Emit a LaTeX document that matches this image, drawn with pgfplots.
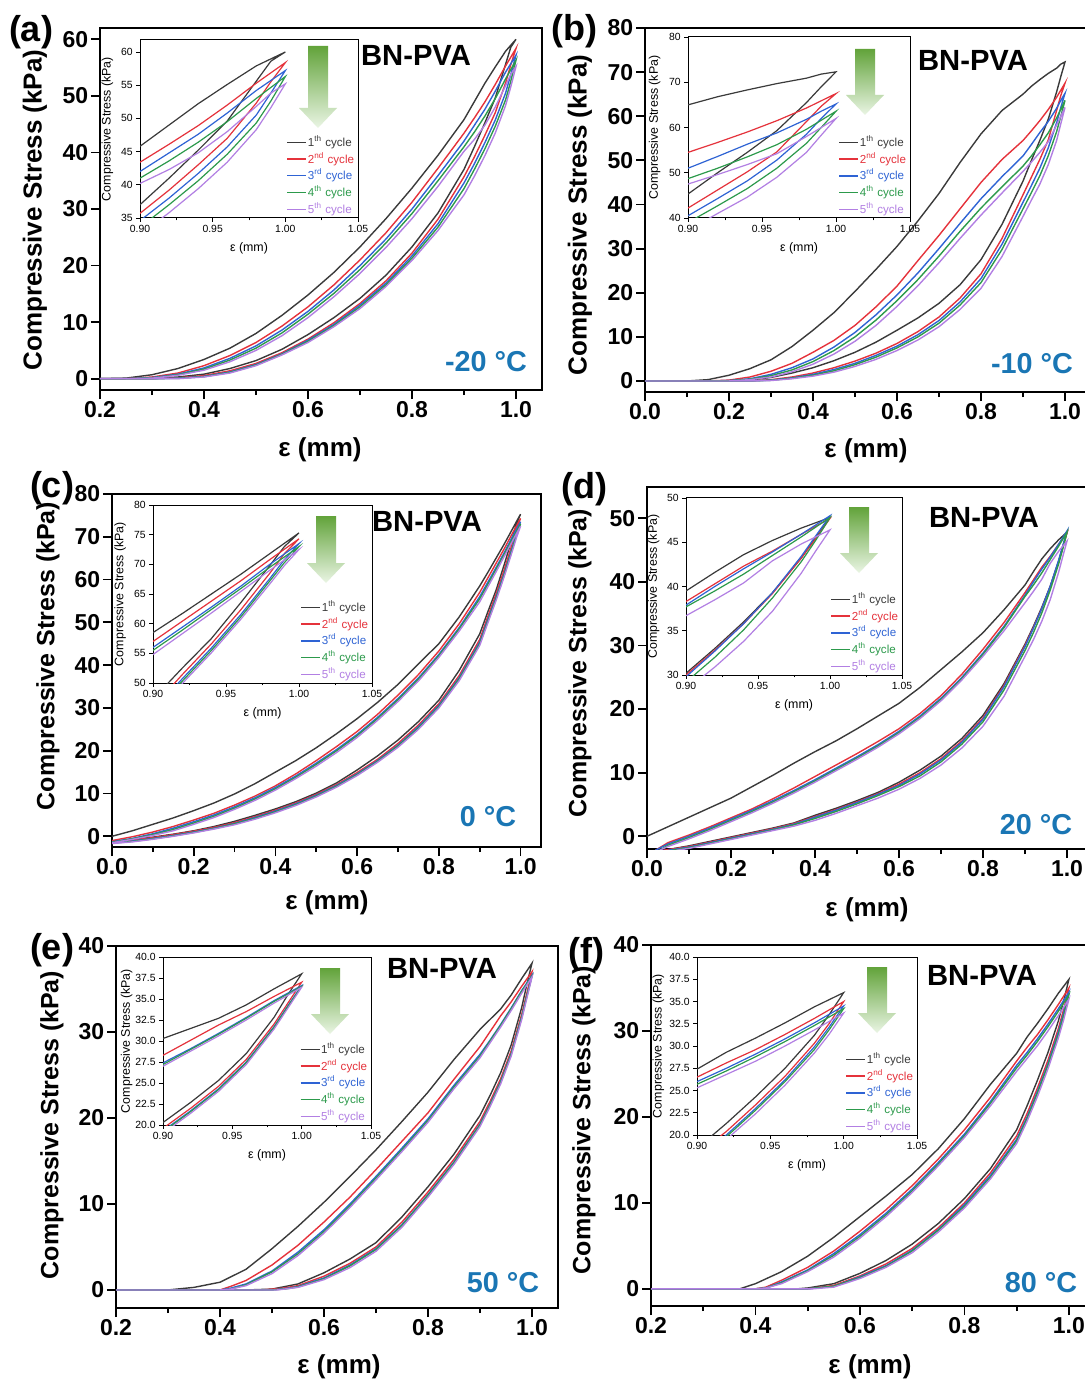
\documentclass[border=0pt]{standalone}
\usepackage{fontspec}
\setmainfont{Liberation Sans}
\usepackage{pgfplots}
\usepackage{pgfplotstable}
\pgfplotsset{compat=1.18}

\definecolor{cA}{HTML}{3A3A3A}
\definecolor{cB}{HTML}{E5323B}
\definecolor{cC}{HTML}{2E63D4}
\definecolor{cD}{HTML}{2C9A4B}
\definecolor{cE}{HTML}{B27FE3}
\definecolor{tmp}{HTML}{1A76B4}
\definecolor{arrtop}{RGB}{98,163,58}
\definecolor{arrbot}{RGB}{234,245,228}

% ---- (a) -20 C : loops, loading branch then unloading branch
\pgfplotstableread[row sep=\\]{x y\\ 0.2 0\\ 0.3 0.05\\ 0.35 0.3\\ 0.4 0.8\\ 0.45 1.8\\ 0.5 3.2\\ 0.55 5.2\\ 0.6 7.8\\ 0.65 10.8\\ 0.7 14.2\\ 0.75 18.3\\ 0.8 23.3\\ 0.85 29.3\\ 0.9 37\\ 0.92 41\\ 0.94 45.2\\ 0.96 49.6\\ 0.98 55.6\\ 0.99 58.6\\ 1.0 60\\ 0.98 57.9\\ 0.96 55.1\\ 0.94 52.2\\ 0.92 49\\ 0.9 45.8\\ 0.85 39.5\\ 0.8 33.7\\ 0.75 28.3\\ 0.7 23.3\\ 0.65 18.8\\ 0.6 14.8\\ 0.55 11.2\\ 0.5 8\\ 0.45 5.4\\ 0.4 3.4\\ 0.35 1.8\\ 0.3 0.7\\ 0.25 0.1\\ 0.2 0\\}\aI
\pgfplotstableread[row sep=\\]{x y\\ 0.2 0\\ 0.3 0\\ 0.35 0.15\\ 0.4 0.55\\ 0.45 1.4\\ 0.5 2.7\\ 0.55 4.6\\ 0.6 7\\ 0.65 9.9\\ 0.7 13.3\\ 0.75 17.3\\ 0.8 22.2\\ 0.85 28.2\\ 0.9 35.7\\ 0.92 39.2\\ 0.94 43\\ 0.96 47\\ 0.98 52.3\\ 0.99 55.5\\ 1.0 58.4\\ 0.98 55.3\\ 0.96 52\\ 0.94 48.9\\ 0.92 46.1\\ 0.9 43.4\\ 0.85 37.2\\ 0.8 31.2\\ 0.75 25.8\\ 0.7 21\\ 0.65 16.6\\ 0.6 12.7\\ 0.55 9.3\\ 0.5 6.4\\ 0.45 4.1\\ 0.4 2.3\\ 0.35 1\\ 0.3 0.3\\ 0.25 0\\ 0.2 0\\}\aII
\pgfplotstableread[row sep=\\]{x y\\ 0.2 0\\ 0.3 0\\ 0.35 0.1\\ 0.4 0.4\\ 0.45 1.2\\ 0.5 2.5\\ 0.55 4.4\\ 0.6 6.8\\ 0.65 9.6\\ 0.7 13\\ 0.75 16.9\\ 0.8 21.7\\ 0.85 27.4\\ 0.9 34.6\\ 0.92 38\\ 0.94 41.7\\ 0.96 45.7\\ 0.98 50.5\\ 0.99 53.8\\ 1.0 57.2\\ 0.98 54.2\\ 0.96 50.8\\ 0.94 47.6\\ 0.92 44.8\\ 0.9 42\\ 0.85 35.9\\ 0.8 30\\ 0.75 24.7\\ 0.7 20\\ 0.65 15.7\\ 0.6 11.9\\ 0.55 8.6\\ 0.5 5.8\\ 0.45 3.6\\ 0.4 1.9\\ 0.35 0.8\\ 0.3 0.2\\ 0.25 0\\ 0.2 0\\}\aIII
\pgfplotstableread[row sep=\\]{x y\\ 0.2 0\\ 0.3 0\\ 0.35 0.05\\ 0.4 0.35\\ 0.45 1.1\\ 0.5 2.4\\ 0.55 4.3\\ 0.6 6.6\\ 0.65 9.4\\ 0.7 12.7\\ 0.75 16.6\\ 0.8 21.3\\ 0.85 26.8\\ 0.9 33.6\\ 0.92 37\\ 0.94 40.6\\ 0.96 44.6\\ 0.98 49.3\\ 0.99 52.6\\ 1.0 56.3\\ 0.98 53\\ 0.96 49.5\\ 0.94 46.4\\ 0.92 43.6\\ 0.9 41\\ 0.85 35\\ 0.8 29.2\\ 0.75 24\\ 0.7 19.3\\ 0.65 15.1\\ 0.6 11.4\\ 0.55 8.1\\ 0.5 5.4\\ 0.45 3.3\\ 0.4 1.7\\ 0.35 0.7\\ 0.3 0.15\\ 0.25 0\\ 0.2 0\\}\aIV
\pgfplotstableread[row sep=\\]{x y\\ 0.2 0\\ 0.35 0\\ 0.4 0.3\\ 0.45 1\\ 0.5 2.3\\ 0.55 4.2\\ 0.6 6.4\\ 0.65 9.2\\ 0.7 12.4\\ 0.75 16.3\\ 0.8 20.9\\ 0.85 26.2\\ 0.9 32.5\\ 0.92 35.8\\ 0.94 39.4\\ 0.96 43.4\\ 0.98 48.3\\ 0.99 51.6\\ 1.0 55.2\\ 0.99 53.8\\ 0.98 51.8\\ 0.96 48\\ 0.94 44.8\\ 0.92 42.3\\ 0.9 40.2\\ 0.85 34\\ 0.8 28.3\\ 0.75 23.2\\ 0.7 18.6\\ 0.65 14.5\\ 0.6 10.8\\ 0.55 7.6\\ 0.5 5\\ 0.45 3\\ 0.4 1.5\\ 0.35 0.6\\ 0.3 0.1\\ 0.25 0\\ 0.2 0\\}\aV

% ---- (b) -10 C
\pgfplotstableread[row sep=\\]{x y\\ 0 0\\ 0.2 0\\ 0.25 0.2\\ 0.3 0.8\\ 0.35 1.8\\ 0.4 3\\ 0.45 4.6\\ 0.5 6.5\\ 0.55 8.8\\ 0.6 11.5\\ 0.65 14.3\\ 0.7 17.6\\ 0.75 21.8\\ 0.8 27.5\\ 0.85 35.5\\ 0.9 45.3\\ 0.92 50\\ 0.94 54.5\\ 0.96 59.3\\ 0.98 65.5\\ 0.99 69\\ 1.0 72.3\\ 0.99 71.8\\ 0.98 70.9\\ 0.96 69.7\\ 0.94 68.3\\ 0.92 66.8\\ 0.9 65\\ 0.85 61.3\\ 0.8 56\\ 0.75 49.5\\ 0.7 42.5\\ 0.65 36.3\\ 0.6 30.5\\ 0.55 25.3\\ 0.5 20.3\\ 0.45 15.5\\ 0.4 11.5\\ 0.35 7.8\\ 0.3 4.8\\ 0.25 2.8\\ 0.2 1.3\\ 0.15 0.3\\ 0.1 0\\ 0 0\\}\bI
\pgfplotstableread[row sep=\\]{x y\\ 0 0\\ 0.25 0\\ 0.3 0.3\\ 0.35 0.9\\ 0.4 1.8\\ 0.45 3\\ 0.5 4.5\\ 0.55 6.3\\ 0.6 8.5\\ 0.65 11.2\\ 0.7 14.5\\ 0.75 18.8\\ 0.8 24.3\\ 0.85 32.3\\ 0.9 42.2\\ 0.92 46.2\\ 0.94 50.2\\ 0.96 54.6\\ 0.98 61.3\\ 0.99 64.7\\ 1.0 67.5\\ 0.98 64.3\\ 0.96 61.5\\ 0.94 59\\ 0.92 56.7\\ 0.9 54.5\\ 0.85 50.2\\ 0.8 45\\ 0.75 39\\ 0.7 33\\ 0.65 27.3\\ 0.6 21.5\\ 0.55 16.8\\ 0.5 12.6\\ 0.45 9.2\\ 0.4 6.5\\ 0.35 4\\ 0.3 2.2\\ 0.25 0.9\\ 0.2 0.2\\ 0.15 0\\ 0 0\\}\bII
\pgfplotstableread[row sep=\\]{x y\\ 0 0\\ 0.25 0\\ 0.3 0.2\\ 0.35 0.7\\ 0.4 1.5\\ 0.45 2.6\\ 0.5 4\\ 0.55 5.8\\ 0.6 7.9\\ 0.65 10.5\\ 0.7 13.7\\ 0.75 17.9\\ 0.8 23.2\\ 0.85 31\\ 0.9 40.5\\ 0.92 44.3\\ 0.94 48.2\\ 0.96 52.8\\ 0.98 58.5\\ 0.99 62\\ 1.0 65.2\\ 0.99 63.6\\ 0.98 61.8\\ 0.96 58.8\\ 0.94 56.3\\ 0.92 53.6\\ 0.9 51\\ 0.85 46.3\\ 0.8 41.3\\ 0.75 35.7\\ 0.7 30\\ 0.65 24.5\\ 0.6 19.5\\ 0.55 15\\ 0.5 11\\ 0.45 7.7\\ 0.4 5\\ 0.35 3\\ 0.3 1.5\\ 0.25 0.5\\ 0.2 0.1\\ 0.15 0\\ 0 0\\}\bIII
\pgfplotstableread[row sep=\\]{x y\\ 0 0\\ 0.25 0\\ 0.3 0.15\\ 0.35 0.6\\ 0.4 1.3\\ 0.45 2.3\\ 0.5 3.7\\ 0.55 5.4\\ 0.6 7.5\\ 0.65 10\\ 0.7 13.1\\ 0.75 17.2\\ 0.8 22.3\\ 0.85 29.8\\ 0.9 39\\ 0.92 42.7\\ 0.94 46.5\\ 0.96 51\\ 0.98 56.5\\ 0.99 60\\ 1.0 63.6\\ 0.98 59.6\\ 0.96 56.2\\ 0.94 53.5\\ 0.92 51\\ 0.9 48.7\\ 0.85 44\\ 0.8 39.2\\ 0.75 33.9\\ 0.7 28.3\\ 0.65 23\\ 0.6 18.2\\ 0.55 13.8\\ 0.5 10\\ 0.45 6.9\\ 0.4 4.4\\ 0.35 2.5\\ 0.3 1.2\\ 0.25 0.4\\ 0.2 0.05\\ 0.15 0\\ 0 0\\}\bIV
\pgfplotstableread[row sep=\\]{x y\\ 0 0\\ 0.25 0\\ 0.3 0.1\\ 0.35 0.5\\ 0.4 1.1\\ 0.45 2\\ 0.5 3.3\\ 0.55 4.9\\ 0.6 6.9\\ 0.65 9.3\\ 0.7 12.3\\ 0.75 16.2\\ 0.8 21\\ 0.85 28.2\\ 0.9 37.3\\ 0.92 41\\ 0.94 44.6\\ 0.96 49\\ 0.98 54.5\\ 0.99 58.3\\ 1.0 62\\ 0.98 58\\ 0.96 54.2\\ 0.94 51.8\\ 0.92 49.6\\ 0.9 47.5\\ 0.85 42.6\\ 0.8 37.6\\ 0.75 32.3\\ 0.7 26.8\\ 0.65 21.6\\ 0.6 16.9\\ 0.55 12.6\\ 0.5 9\\ 0.45 6.1\\ 0.4 3.8\\ 0.35 2.1\\ 0.3 0.9\\ 0.25 0.3\\ 0.2 0\\ 0 0\\}\bV

% ---- (c) 0 C
\pgfplotstableread[row sep=\\]{x y\\ 0 -1.2\\ 0.05 -0.7\\ 0.1 -0.2\\ 0.15 0.5\\ 0.2 1.3\\ 0.25 2.3\\ 0.3 3.5\\ 0.35 4.9\\ 0.4 6.4\\ 0.45 8.1\\ 0.5 10.1\\ 0.55 12.5\\ 0.6 15.5\\ 0.65 18.8\\ 0.7 22.5\\ 0.75 26.8\\ 0.8 31.8\\ 0.85 38.8\\ 0.9 47.3\\ 0.92 52.5\\ 0.94 57.5\\ 0.96 63.5\\ 0.98 69.8\\ 0.99 73\\ 1.0 75.3\\ 0.98 71.8\\ 0.96 68.3\\ 0.94 65\\ 0.92 61.7\\ 0.9 58.5\\ 0.85 51.3\\ 0.8 45\\ 0.75 40.3\\ 0.7 35.5\\ 0.65 31.3\\ 0.6 27.5\\ 0.55 24\\ 0.5 20.7\\ 0.45 17.7\\ 0.4 15\\ 0.35 12.3\\ 0.3 9.9\\ 0.25 7.8\\ 0.2 6\\ 0.15 4.3\\ 0.1 2.8\\ 0.05 1.3\\ 0 0\\}\cI
\pgfplotstableread[row sep=\\]{x y\\ 0 -1.3\\ 0.05 -0.9\\ 0.1 -0.3\\ 0.15 0.4\\ 0.2 1.2\\ 0.25 2.1\\ 0.3 3.2\\ 0.35 4.6\\ 0.4 6.1\\ 0.45 7.8\\ 0.5 9.8\\ 0.55 12.1\\ 0.6 14.9\\ 0.65 18\\ 0.7 21.7\\ 0.75 26\\ 0.8 31\\ 0.85 37.6\\ 0.9 46\\ 0.92 51.4\\ 0.94 56.6\\ 0.96 62.3\\ 0.98 68.5\\ 0.99 71.8\\ 1.0 74.3\\ 0.98 70.8\\ 0.96 67.2\\ 0.94 63.8\\ 0.92 60.4\\ 0.9 57\\ 0.85 49.7\\ 0.8 43.3\\ 0.75 37.8\\ 0.7 33\\ 0.65 28.5\\ 0.6 24.5\\ 0.55 21\\ 0.5 17.7\\ 0.45 14.6\\ 0.4 11.8\\ 0.35 9.4\\ 0.3 7.3\\ 0.25 5.4\\ 0.2 3.8\\ 0.15 2.3\\ 0.1 1\\ 0.05 -0.1\\ 0 -1\\}\cII
\pgfplotstableread[row sep=\\]{x y\\ 0 -1.5\\ 0.05 -1.1\\ 0.1 -0.5\\ 0.15 0.2\\ 0.2 1\\ 0.25 1.9\\ 0.3 3\\ 0.35 4.4\\ 0.4 5.9\\ 0.45 7.6\\ 0.5 9.6\\ 0.55 11.9\\ 0.6 14.6\\ 0.65 17.7\\ 0.7 21.3\\ 0.75 25.6\\ 0.8 30.6\\ 0.85 37.1\\ 0.9 45.4\\ 0.92 50.7\\ 0.94 55.9\\ 0.96 61.5\\ 0.98 67.6\\ 0.99 70.8\\ 1.0 73.5\\ 0.98 70\\ 0.96 66.3\\ 0.94 62.8\\ 0.92 59.4\\ 0.9 56\\ 0.85 48.8\\ 0.8 42.5\\ 0.75 37\\ 0.7 32.2\\ 0.65 27.8\\ 0.6 23.8\\ 0.55 20.3\\ 0.5 17.1\\ 0.45 14.1\\ 0.4 11.4\\ 0.35 9\\ 0.3 6.9\\ 0.25 5\\ 0.2 3.4\\ 0.15 1.9\\ 0.1 0.6\\ 0.05 -0.5\\ 0 -1.3\\}\cIII
\pgfplotstableread[row sep=\\]{x y\\ 0 -1.6\\ 0.05 -1.2\\ 0.1 -0.6\\ 0.15 0.1\\ 0.2 0.9\\ 0.25 1.8\\ 0.3 2.9\\ 0.35 4.2\\ 0.4 5.7\\ 0.45 7.4\\ 0.5 9.4\\ 0.55 11.7\\ 0.6 14.4\\ 0.65 17.5\\ 0.7 21.1\\ 0.75 25.3\\ 0.8 30.3\\ 0.85 36.8\\ 0.9 45\\ 0.92 50.3\\ 0.94 55.5\\ 0.96 61.1\\ 0.98 67.2\\ 0.99 70.3\\ 1.0 73\\ 0.98 69.5\\ 0.96 65.9\\ 0.94 62.4\\ 0.92 58.9\\ 0.9 55.5\\ 0.85 48.5\\ 0.8 42.2\\ 0.75 36.7\\ 0.7 31.9\\ 0.65 27.5\\ 0.6 23.5\\ 0.55 20\\ 0.5 16.8\\ 0.45 13.8\\ 0.4 11.1\\ 0.35 8.7\\ 0.3 6.6\\ 0.25 4.7\\ 0.2 3.1\\ 0.15 1.6\\ 0.1 0.4\\ 0.05 -0.6\\ 0 -1.4\\}\cIV
\pgfplotstableread[row sep=\\]{x y\\ 0 -1.7\\ 0.05 -1.3\\ 0.1 -0.7\\ 0.15 0\\ 0.2 0.8\\ 0.25 1.7\\ 0.3 2.7\\ 0.35 4\\ 0.4 5.5\\ 0.45 7.2\\ 0.5 9.2\\ 0.55 11.5\\ 0.6 14.2\\ 0.65 17.3\\ 0.7 20.8\\ 0.75 25\\ 0.8 30\\ 0.85 36.4\\ 0.9 44.6\\ 0.92 49.9\\ 0.94 55.1\\ 0.96 60.7\\ 0.98 66.7\\ 0.99 69.8\\ 1.0 72.5\\ 0.98 69\\ 0.96 65.4\\ 0.94 61.8\\ 0.92 58.3\\ 0.9 54.8\\ 0.85 48\\ 0.8 41.8\\ 0.75 36.3\\ 0.7 31.5\\ 0.65 27.1\\ 0.6 23.1\\ 0.55 19.6\\ 0.5 16.4\\ 0.45 13.5\\ 0.4 10.8\\ 0.35 8.4\\ 0.3 6.3\\ 0.25 4.4\\ 0.2 2.8\\ 0.15 1.3\\ 0.1 0.2\\ 0.05 -0.7\\ 0 -1.5\\}\cV

% ---- (d) 20 C
\pgfplotstableread[row sep=\\]{x y\\ 0.04 -2.2\\ 0.1 -1.5\\ 0.15 -0.8\\ 0.2 -0.1\\ 0.25 0.6\\ 0.3 1.3\\ 0.35 2.1\\ 0.4 3.3\\ 0.45 4.4\\ 0.5 5.6\\ 0.55 6.9\\ 0.6 8.5\\ 0.65 10.4\\ 0.7 12.6\\ 0.75 15.4\\ 0.8 19\\ 0.85 24\\ 0.9 30.2\\ 0.92 33\\ 0.94 36\\ 0.96 39.3\\ 0.98 43.2\\ 0.99 45.5\\ 1.0 47.8\\ 0.98 46.6\\ 0.96 45.2\\ 0.94 43.6\\ 0.92 41.6\\ 0.9 39.5\\ 0.85 35.6\\ 0.8 32\\ 0.75 29\\ 0.7 26.2\\ 0.65 23.4\\ 0.6 20.9\\ 0.55 18.9\\ 0.5 16.9\\ 0.45 15\\ 0.4 13.3\\ 0.35 11.5\\ 0.3 9.6\\ 0.25 7.8\\ 0.2 6\\ 0.15 4.5\\ 0.1 3\\ 0.05 1.5\\ 0 0\\}\dI
\pgfplotstableread[row sep=\\]{x y\\ 0.04 -2.2\\ 0.1 -1.6\\ 0.15 -0.9\\ 0.2 -0.2\\ 0.25 0.5\\ 0.3 1.2\\ 0.35 2\\ 0.4 3.1\\ 0.45 4.2\\ 0.5 5.4\\ 0.55 6.7\\ 0.6 8.2\\ 0.65 10\\ 0.7 12.2\\ 0.75 15\\ 0.8 18.6\\ 0.85 23.7\\ 0.9 30\\ 0.92 32.8\\ 0.94 35.8\\ 0.96 39.2\\ 0.98 43.2\\ 0.99 45.4\\ 1.0 47.7\\ 0.98 45.9\\ 0.96 44\\ 0.94 42.3\\ 0.92 40.3\\ 0.9 38.3\\ 0.85 33.6\\ 0.8 29.4\\ 0.75 25.5\\ 0.7 22.1\\ 0.65 19.3\\ 0.6 16.9\\ 0.55 14.9\\ 0.5 13\\ 0.45 11.2\\ 0.4 9.4\\ 0.35 7.6\\ 0.3 5.9\\ 0.25 4.3\\ 0.2 2.9\\ 0.15 1.5\\ 0.1 0.2\\ 0.05 -1\\ 0.02 -2.2\\}\dII
\pgfplotstableread[row sep=\\]{x y\\ 0.05 -2.2\\ 0.1 -1.7\\ 0.15 -1\\ 0.2 -0.3\\ 0.25 0.4\\ 0.3 1.1\\ 0.35 1.9\\ 0.4 3\\ 0.45 4.1\\ 0.5 5.3\\ 0.55 6.6\\ 0.6 8\\ 0.65 9.8\\ 0.7 12\\ 0.75 14.8\\ 0.8 18.4\\ 0.85 23.5\\ 0.9 29.8\\ 0.92 32.7\\ 0.94 35.8\\ 0.96 39.3\\ 0.98 43.4\\ 0.99 45.7\\ 1.0 48\\ 0.98 45.9\\ 0.96 43.9\\ 0.94 42\\ 0.92 40\\ 0.9 37.9\\ 0.85 33\\ 0.8 28.8\\ 0.75 25\\ 0.7 21.7\\ 0.65 18.9\\ 0.6 16.5\\ 0.55 14.4\\ 0.5 12.5\\ 0.45 10.7\\ 0.4 8.9\\ 0.35 7.2\\ 0.3 5.6\\ 0.25 4.1\\ 0.2 2.7\\ 0.15 1.3\\ 0.1 0\\ 0.05 -1.2\\ 0.02 -2.2\\}\dIII
\pgfplotstableread[row sep=\\]{x y\\ 0.06 -2.2\\ 0.1 -1.8\\ 0.15 -1.1\\ 0.2 -0.4\\ 0.25 0.3\\ 0.3 1\\ 0.35 1.8\\ 0.4 2.8\\ 0.45 3.9\\ 0.5 5.1\\ 0.55 6.4\\ 0.6 7.8\\ 0.65 9.5\\ 0.7 11.7\\ 0.75 14.5\\ 0.8 18\\ 0.85 23\\ 0.9 29.2\\ 0.92 32\\ 0.94 35.1\\ 0.96 38.7\\ 0.98 42.8\\ 0.99 45.2\\ 1.0 47.8\\ 0.98 45.6\\ 0.96 43.5\\ 0.94 41.4\\ 0.92 39.5\\ 0.9 37.7\\ 0.85 32.8\\ 0.8 28.6\\ 0.75 24.8\\ 0.7 21.5\\ 0.65 18.7\\ 0.6 16.3\\ 0.55 14.2\\ 0.5 12.3\\ 0.45 10.5\\ 0.4 8.7\\ 0.35 7\\ 0.3 5.4\\ 0.25 3.9\\ 0.2 2.5\\ 0.15 1.1\\ 0.1 -0.2\\ 0.05 -1.4\\ 0.03 -2.2\\}\dIV
\pgfplotstableread[row sep=\\]{x y\\ 0.07 -2.2\\ 0.1 -1.9\\ 0.15 -1.2\\ 0.2 -0.5\\ 0.25 0.2\\ 0.3 0.9\\ 0.35 1.6\\ 0.4 2.5\\ 0.45 3.6\\ 0.5 4.8\\ 0.55 6\\ 0.6 7.4\\ 0.65 9.1\\ 0.7 11.2\\ 0.75 13.9\\ 0.8 17.3\\ 0.85 22\\ 0.9 28.3\\ 0.92 30.9\\ 0.94 33.8\\ 0.96 37.2\\ 0.98 41.5\\ 0.99 44\\ 1.0 46.4\\ 0.98 44.8\\ 0.96 42.9\\ 0.94 40.4\\ 0.92 38.5\\ 0.9 36.7\\ 0.85 32.3\\ 0.8 28.3\\ 0.75 24.6\\ 0.7 21.3\\ 0.65 18.5\\ 0.6 16.1\\ 0.55 14\\ 0.5 12.1\\ 0.45 10.3\\ 0.4 8.5\\ 0.35 6.8\\ 0.3 5.2\\ 0.25 3.7\\ 0.2 2.3\\ 0.15 0.9\\ 0.1 -0.4\\ 0.05 -1.6\\ 0.03 -2.2\\}\dV

% ---- (e) 50 C
\pgfplotstableread[row sep=\\]{x y\\ 0.2 0\\ 0.45 0\\ 0.5 0.1\\ 0.55 0.7\\ 0.6 2\\ 0.65 3.6\\ 0.7 5.5\\ 0.75 8.5\\ 0.8 12\\ 0.85 15.8\\ 0.9 20.3\\ 0.92 22.7\\ 0.94 25.3\\ 0.96 28.5\\ 0.98 32.8\\ 0.99 35.5\\ 1.0 38\\ 0.99 37.1\\ 0.98 36.2\\ 0.96 34.3\\ 0.94 32.7\\ 0.92 31.5\\ 0.9 30.3\\ 0.85 26.8\\ 0.8 23\\ 0.75 19.6\\ 0.7 16.3\\ 0.65 13.2\\ 0.6 10.2\\ 0.55 7.4\\ 0.5 4.8\\ 0.45 2.4\\ 0.4 0.9\\ 0.35 0.3\\ 0.3 0\\ 0.2 0\\}\eI
\pgfplotstableread[row sep=\\]{x y\\ 0.2 0\\ 0.48 0\\ 0.52 0.2\\ 0.55 0.5\\ 0.6 1.6\\ 0.65 3.1\\ 0.7 5\\ 0.75 7.9\\ 0.8 11.4\\ 0.85 15.2\\ 0.9 19.6\\ 0.92 22\\ 0.94 24.6\\ 0.96 27.8\\ 0.98 32\\ 0.99 34.5\\ 1.0 37\\ 0.98 35.3\\ 0.96 33.5\\ 0.94 31.9\\ 0.92 30.1\\ 0.9 28.3\\ 0.85 24.5\\ 0.8 20.6\\ 0.75 17.3\\ 0.7 14\\ 0.65 10.8\\ 0.6 7.9\\ 0.55 5.2\\ 0.5 2.9\\ 0.45 1.1\\ 0.42 0.4\\ 0.4 0\\ 0.2 0\\}\eII
\pgfplotstableread[row sep=\\]{x y\\ 0.2 0\\ 0.5 0\\ 0.53 0.2\\ 0.55 0.4\\ 0.6 1.4\\ 0.65 2.9\\ 0.7 4.8\\ 0.75 7.6\\ 0.8 11.1\\ 0.85 14.9\\ 0.9 19.3\\ 0.92 21.7\\ 0.94 24.3\\ 0.96 27.5\\ 0.98 31.7\\ 0.99 34.2\\ 1.0 36.6\\ 0.98 34.8\\ 0.96 32.8\\ 0.94 30.9\\ 0.92 29.1\\ 0.9 27.4\\ 0.85 23.8\\ 0.8 19.9\\ 0.75 16.5\\ 0.7 13.2\\ 0.65 10\\ 0.6 7\\ 0.55 4.4\\ 0.5 2.2\\ 0.45 0.7\\ 0.42 0.2\\ 0.4 0\\ 0.2 0\\}\eIII
\pgfplotstableread[row sep=\\]{x y\\ 0.2 0\\ 0.5 0\\ 0.53 0.15\\ 0.55 0.35\\ 0.6 1.3\\ 0.65 2.8\\ 0.7 4.7\\ 0.75 7.5\\ 0.8 11\\ 0.85 14.8\\ 0.9 19.2\\ 0.92 21.6\\ 0.94 24.2\\ 0.96 27.4\\ 0.98 31.6\\ 0.99 34.1\\ 1.0 36.5\\ 0.98 34.7\\ 0.96 32.7\\ 0.94 30.8\\ 0.92 29\\ 0.9 27.2\\ 0.85 23.6\\ 0.8 19.7\\ 0.75 16.3\\ 0.7 13\\ 0.65 9.8\\ 0.6 6.8\\ 0.55 4.2\\ 0.5 2.1\\ 0.45 0.6\\ 0.42 0.1\\ 0.4 0\\ 0.2 0\\}\eIV
\pgfplotstableread[row sep=\\]{x y\\ 0.2 0\\ 0.51 0\\ 0.55 0.3\\ 0.6 1.2\\ 0.65 2.6\\ 0.7 4.5\\ 0.75 7.3\\ 0.8 10.8\\ 0.85 14.6\\ 0.9 19\\ 0.92 21.4\\ 0.94 24\\ 0.96 27.2\\ 0.98 31.4\\ 0.99 33.9\\ 1.0 36.4\\ 0.98 34.5\\ 0.96 32.5\\ 0.94 30.6\\ 0.92 28.8\\ 0.9 27\\ 0.85 23.4\\ 0.8 19.5\\ 0.75 16.1\\ 0.7 12.8\\ 0.65 9.6\\ 0.6 6.6\\ 0.55 4\\ 0.5 1.9\\ 0.45 0.5\\ 0.42 0.1\\ 0.4 0\\ 0.2 0\\}\eV

% ---- (f) 80 C
\pgfplotstableread[row sep=\\]{x y\\ 0.2 0\\ 0.48 0\\ 0.5 0.1\\ 0.55 0.6\\ 0.6 1.8\\ 0.65 3.3\\ 0.7 5.2\\ 0.75 7.6\\ 0.8 10.5\\ 0.85 14\\ 0.9 18.5\\ 0.92 21.3\\ 0.94 24.3\\ 0.96 27.5\\ 0.98 31.2\\ 0.99 33.5\\ 1.0 36\\ 0.98 34.4\\ 0.96 32.6\\ 0.94 30.9\\ 0.92 29.3\\ 0.9 27.4\\ 0.85 23.8\\ 0.8 19.8\\ 0.75 16.3\\ 0.7 13.3\\ 0.65 10.8\\ 0.6 8.4\\ 0.55 6\\ 0.5 3.8\\ 0.45 2\\ 0.4 0.6\\ 0.37 0\\ 0.2 0\\}\fI
\pgfplotstableread[row sep=\\]{x y\\ 0.2 0\\ 0.5 0\\ 0.55 0.4\\ 0.6 1.5\\ 0.65 2.9\\ 0.7 4.7\\ 0.75 7.1\\ 0.8 10\\ 0.85 13.5\\ 0.9 17.8\\ 0.92 20.4\\ 0.94 23.4\\ 0.96 26.6\\ 0.98 30.3\\ 0.99 32.5\\ 1.0 35\\ 0.98 33.1\\ 0.96 31.3\\ 0.94 29.6\\ 0.92 28.1\\ 0.9 26.5\\ 0.85 22.3\\ 0.8 18.5\\ 0.75 15.1\\ 0.7 12\\ 0.65 9.2\\ 0.6 6.7\\ 0.55 4.4\\ 0.5 2.5\\ 0.45 1\\ 0.42 0.2\\ 0.4 0\\ 0.2 0\\}\fII
\pgfplotstableread[row sep=\\]{x y\\ 0.2 0\\ 0.5 0\\ 0.55 0.3\\ 0.6 1.4\\ 0.65 2.7\\ 0.7 4.5\\ 0.75 6.9\\ 0.8 9.8\\ 0.85 13.2\\ 0.9 17.4\\ 0.92 20\\ 0.94 23\\ 0.96 26.2\\ 0.98 29.9\\ 0.99 32.1\\ 1.0 34.5\\ 0.98 32.6\\ 0.96 30.8\\ 0.94 29.1\\ 0.92 27.5\\ 0.9 26\\ 0.85 21.8\\ 0.8 18\\ 0.75 14.7\\ 0.7 11.6\\ 0.65 8.8\\ 0.6 6.3\\ 0.55 4.1\\ 0.5 2.2\\ 0.45 0.8\\ 0.42 0.1\\ 0.4 0\\ 0.2 0\\}\fIII
\pgfplotstableread[row sep=\\]{x y\\ 0.2 0\\ 0.5 0\\ 0.55 0.3\\ 0.6 1.3\\ 0.65 2.6\\ 0.7 4.4\\ 0.75 6.8\\ 0.8 9.6\\ 0.85 13\\ 0.9 17.2\\ 0.92 19.8\\ 0.94 22.8\\ 0.96 26\\ 0.98 29.6\\ 0.99 31.8\\ 1.0 34.2\\ 0.98 32.3\\ 0.96 30.5\\ 0.94 28.8\\ 0.92 27.2\\ 0.9 25.7\\ 0.85 21.6\\ 0.8 17.8\\ 0.75 14.5\\ 0.7 11.4\\ 0.65 8.6\\ 0.6 6.1\\ 0.55 3.9\\ 0.5 2.1\\ 0.45 0.7\\ 0.42 0.1\\ 0.4 0\\ 0.2 0\\}\fIV
\pgfplotstableread[row sep=\\]{x y\\ 0.2 0\\ 0.51 0\\ 0.55 0.2\\ 0.6 1.2\\ 0.65 2.5\\ 0.7 4.2\\ 0.75 6.6\\ 0.8 9.4\\ 0.85 12.8\\ 0.9 16.9\\ 0.92 19.5\\ 0.94 22.4\\ 0.96 25.6\\ 0.98 29.2\\ 0.99 31.3\\ 1.0 33.7\\ 0.98 31.8\\ 0.96 30\\ 0.94 28.3\\ 0.92 26.8\\ 0.9 25.3\\ 0.85 21.3\\ 0.8 17.6\\ 0.75 14.3\\ 0.7 11.2\\ 0.65 8.4\\ 0.6 5.9\\ 0.55 3.7\\ 0.5 2\\ 0.45 0.6\\ 0.42 0.1\\ 0.4 0\\ 0.2 0\\}\fV

\pgfplotsset{
  mainax/.style={
    scale only axis, axis line style={line width=1.1pt},
    tick pos=left, tick align=outside,
    major tick length=4.5pt, minor tick length=2.5pt,
    every tick/.append style={line width=0.9pt, black},
    minor x tick num=1,
    tick label style={font=\bfseries\fontsize{11.5}{13}\selectfont, inner sep=1.2pt},
    /pgf/number format/assume math mode=true,
    xticklabel style={/pgf/number format/.cd, fixed, fixed zerofill, precision=1},
    every axis plot/.append style={line width=0.7pt},
  },
  inylab/.style={every axis y label/.style={at={(axis description cs:#1,0.5)},
    rotate=90, anchor=center, font=\fontsize{6.2}{7}\selectfont}},
  inax/.style={
    scale only axis, axis background/.style={fill=white},
    axis line style={line width=0.5pt},
    tick pos=left, tick align=outside,
    major tick length=2pt, minor tick length=1.2pt,
    every tick/.append style={line width=0.4pt, black},
    xmin=0.9, xmax=1.05, xtick={0.9,0.95,1.0,1.05}, minor x tick num=1,
    tick label style={font=\fontsize{5.2}{6}\selectfont, inner sep=1.5pt},
    /pgf/number format/assume math mode=true,
    xticklabel style={/pgf/number format/.cd, fixed, fixed zerofill, precision=2},
    xlabel style={font=\fontsize{6.2}{7}\selectfont},
    xlabel={ε (mm)}, ylabel={Compressive Stress (kPa)},
    inylab=-0.15,
    every axis plot/.append style={line width=0.6pt},
    legend style={draw=none, fill=none, at={(0.99,0.0)}, anchor=south east,
      font=\fontsize{5.8}{7}\selectfont, row sep=0.6pt, inner sep=0.3pt,
      nodes={inner sep=0.4pt}},
    legend cell align=left,
    legend image code/.code={\draw[#1, line width=0.7pt] (0pt,0pt) -- (9.5pt,0pt);},
  },
}

\newcommand{\loops}[5]{%
  \addplot[cA] table {#1};
  \addplot[cB] table {#2};
  \addplot[cC] table {#3};
  \addplot[cD] table {#4};
  \addplot[cE] table {#5};}
\newcommand{\cyclegend}{\legend{\textcolor{cA}{1\textsuperscript{th} cycle},
  \textcolor{cB}{2\textsuperscript{nd} cycle},
  \textcolor{cC}{3\textsuperscript{rd} cycle},
  \textcolor{cD}{4\textsuperscript{th} cycle},
  \textcolor{cE}{5\textsuperscript{th} cycle}}}
% green fading arrow, pixel units: centre x, top y, tip y
\newcommand{\garrow}[3]{\shade[top color=arrtop, bottom color=arrbot]
  ({#1-10},#2) -- ({#1+10},#2) -- ({#1+10},{#3-20}) -- ({#1+19},{#3-20}) --
  (#1,#3) -- ({#1-19},{#3-20}) -- ({#1-10},{#3-20}) -- cycle;}

\begin{document}
\begin{tikzpicture}
\useasboundingbox (0,0) rectangle (542pt,-690pt);

% (a)
\begin{axis}[mainax, at={(50pt,-195pt)}, anchor=south west, width=221pt, height=181pt,
  xmin=0.2, xmax=1.05, ymin=-2, ymax=62, xtick={0.2,0.4,0.6,0.8,1.0}, ytick={0,10,...,60}]
\loops{\aI}{\aII}{\aIII}{\aIV}{\aV}
\end{axis}
\begin{axis}[inax, at={(70pt,-109pt)}, anchor=south west, width=109pt, height=89pt,
  ymin=35, ymax=61.8, ytick={35,40,...,60}]
\loops{\aI}{\aII}{\aIII}{\aIV}{\aV}
\cyclegend
\end{axis}

% (b)
\begin{axis}[mainax, at={(322.5pt,-196pt)}, anchor=south west, width=220.5pt, height=182pt,
  xmin=0, xmax=1.05, ymin=-2.5, ymax=80, xtick={0,0.2,0.4,0.6,0.8,1.0}, ytick={0,10,...,80}]
\loops{\bI}{\bII}{\bIII}{\bIV}{\bV}
\end{axis}
\begin{axis}[inax, at={(344pt,-109pt)}, anchor=south west, width=111pt, height=90.5pt,
  ymin=40, ymax=80, ytick={40,50,...,80}]
\loops{\bI}{\bII}{\bIII}{\bIV}{\bV}
\cyclegend
\end{axis}

% (c)
\begin{axis}[mainax, at={(56pt,-423.5pt)}, anchor=south west, width=214.5pt, height=176.5pt,
  xmin=0, xmax=1.05, ymin=-2.5, ymax=80, xtick={0,0.2,0.4,0.6,0.8,1.0}, ytick={0,10,...,80}]
\loops{\cI}{\cII}{\cIII}{\cIV}{\cV}
\end{axis}
\begin{axis}[inax, at={(76.5pt,-341.5pt)}, anchor=south west, width=109.5pt, height=89pt,
  ymin=50, ymax=80, ytick={50,55,...,80}]
\loops{\cI}{\cII}{\cIII}{\cIV}{\cV}
\cyclegend
\end{axis}

% (d)
\begin{axis}[mainax, at={(323.5pt,-424.5pt)}, anchor=south west, width=220.5pt, height=181pt,
  xmin=0, xmax=1.05, ymin=-2, ymax=54.9, xtick={0,0.2,0.4,0.6,0.8,1.0}, ytick={0,10,...,50}]
\loops{\dI}{\dII}{\dIII}{\dIV}{\dV}
\end{axis}
\begin{axis}[inax, at={(343pt,-337.5pt)}, anchor=south west, width=108pt, height=88.5pt,
  ymin=30, ymax=50, ytick={30,35,...,50}]
\loops{\dI}{\dII}{\dIII}{\dIV}{\dV}
\cyclegend
\end{axis}

% (e)
\begin{axis}[mainax, at={(58pt,-654pt)}, anchor=south west, width=221pt, height=181pt,
  xmin=0.2, xmax=1.05, ymin=-2.1, ymax=40, xtick={0.2,0.4,0.6,0.8,1.0}, ytick={0,10,...,40}]
\loops{\eI}{\eII}{\eIII}{\eIV}{\eV}
\end{axis}
\begin{axis}[inax, at={(81.5pt,-562.5pt)}, anchor=south west, width=104pt, height=84pt,
  ymin=20, ymax=40, ytick={20,22.5,...,40}, inylab=-0.175,
  yticklabel style={/pgf/number format/.cd, fixed, fixed zerofill, precision=1}]
\loops{\eI}{\eII}{\eIII}{\eIV}{\eV}
\cyclegend
\end{axis}

% (f)
\begin{axis}[mainax, at={(325.5pt,-653pt)}, anchor=south west, width=222pt, height=180.5pt,
  xmin=0.2, xmax=1.05, ymin=-2, ymax=40, xtick={0.2,0.4,0.6,0.8,1.0}, ytick={0,10,...,40}]
\loops{\fI}{\fII}{\fIII}{\fIV}{\fV}
\end{axis}
\begin{axis}[inax, at={(348.5pt,-567.5pt)}, anchor=south west, width=110pt, height=89pt,
  ymin=20, ymax=40, ytick={20,22.5,...,40}, inylab=-0.175,
  yticklabel style={/pgf/number format/.cd, fixed, fixed zerofill, precision=1}]
\loops{\fI}{\fII}{\fIII}{\fIV}{\fV}
\cyclegend
\end{axis}

% annotations in pixel units of the reference
\begin{scope}[x=0.5pt, y=-0.5pt]
\garrow{318}{46}{128}
\garrow{865}{49}{115}
\garrow{326}{516}{583}
\garrow{859}{507}{573}
\garrow{330}{968}{1034}
\garrow{877}{967}{1033}

\tikzset{pl/.style={font=\bfseries\fontsize{18}{20}\selectfont},
  bn/.style={font=\bfseries\fontsize{14.6}{16}\selectfont},
  tc/.style={font=\bfseries\fontsize{14.4}{16}\selectfont, text=tmp},
  yl/.style={font=\bfseries\fontsize{12.5}{14}\selectfont, rotate=90},
  xl/.style={font=\bfseries\fontsize{13}{14}\selectfont}}

\node[pl] at (31,32) {(a)};
\node[pl] at (574,31) {(b)};
\node[pl] at (52,488) {(c)};
\node[pl] at (584,489) {(d)};
\node[pl] at (52,950) {(e)};
\node[pl] at (586,954) {(f)};

\node[bn] at (416,55) {BN-PVA};
\node[bn] at (973,60) {BN-PVA};
\node[bn] at (427,521) {BN-PVA};
\node[bn] at (984,517) {BN-PVA};
\node[bn] at (442,968) {BN-PVA};
\node[bn] at (982,975) {BN-PVA};

\node[tc] at (486,362) {-20 °C};
\node[tc] at (1032,364) {-10 °C};
\node[tc] at (488,817) {0 °C};
\node[tc] at (1036,825) {20 °C};
\node[tc] at (503,1283) {50 °C};
\node[tc] at (1041,1283) {80 °C};

\node[yl, font=\bfseries\fontsize{13}{14}\selectfont] at (35,210) {Compressive Stress (kPa)};
\node[yl, font=\bfseries\fontsize{13}{14}\selectfont] at (580,215) {Compressive Stress (kPa)};
\node[yl] at (48,656) {Compressive Stress (kPa)};
\node[yl] at (580,663) {Compressive Stress (kPa)};
\node[yl] at (52,1125) {Compressive Stress (kPa)};
\node[yl] at (584,1120) {Compressive Stress (kPa)};

\node[xl] at (320,450) {ε (mm)};
\node[xl] at (866,451) {ε (mm)};
\node[xl] at (327,903) {ε (mm)};
\node[xl] at (867,910) {ε (mm)};
\node[xl] at (339,1367) {ε (mm)};
\node[xl] at (870,1367) {ε (mm)};
\end{scope}
\end{tikzpicture}
\end{document}
